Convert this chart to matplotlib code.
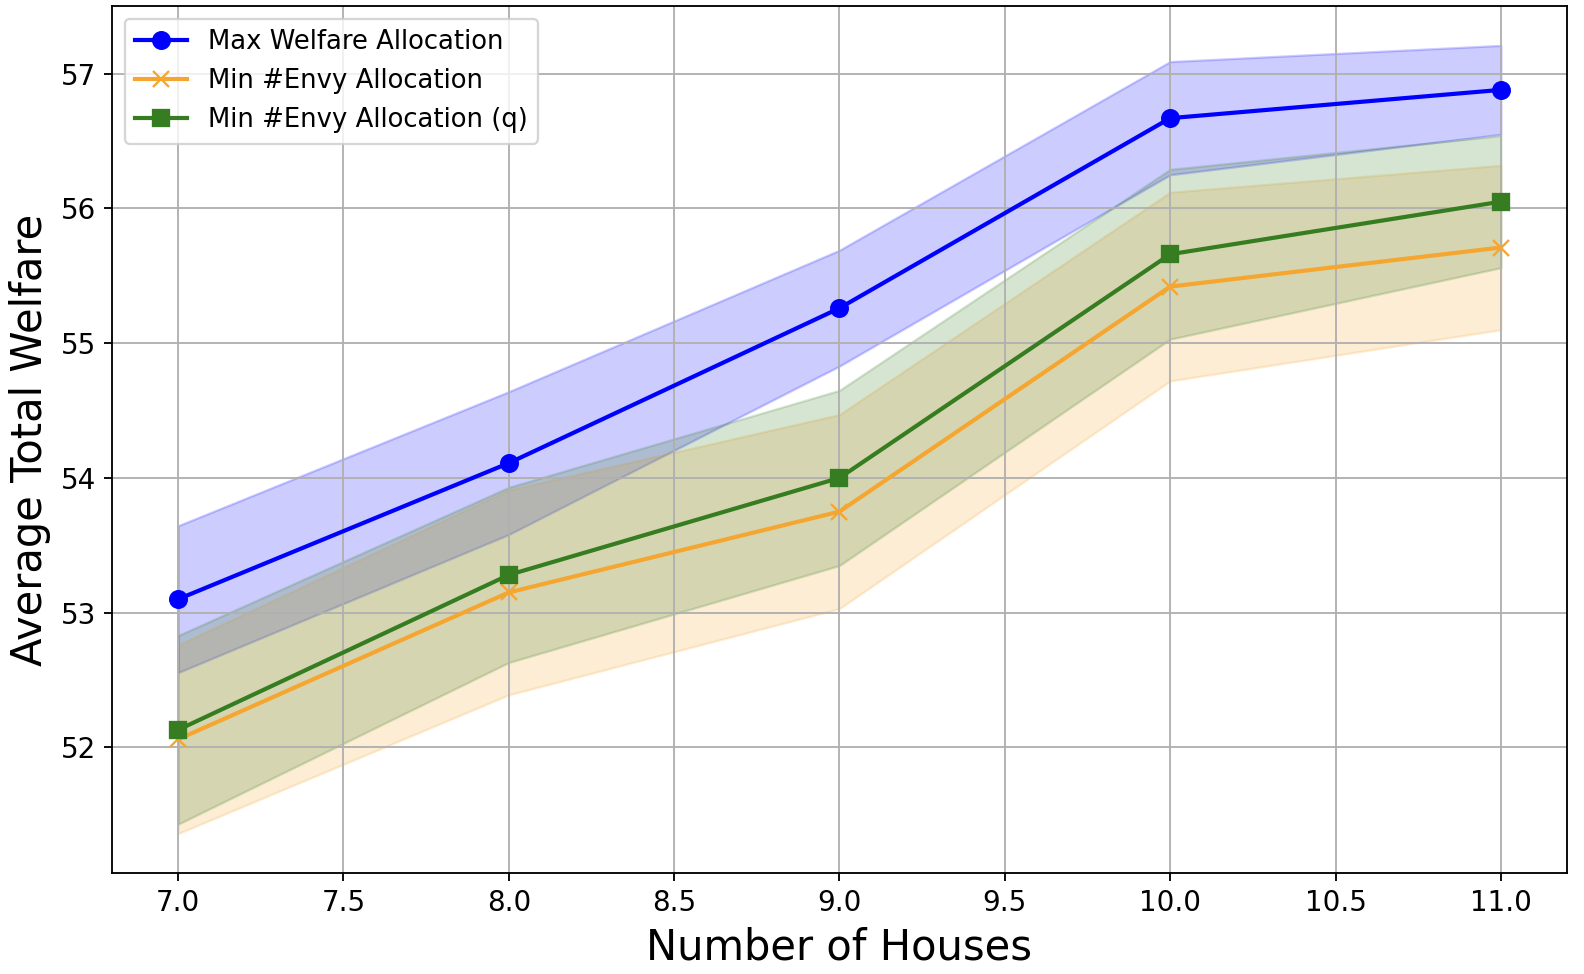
import matplotlib
matplotlib.use("Agg")
import matplotlib.pyplot as plt
import numpy as np

houses = [7, 8, 9, 10, 11]

max_welfare_mean = [53.10, 54.11, 55.26, 56.67, 56.88]
max_welfare_std = [0.545, 0.53, 0.43, 0.42, 0.33]

min_envy_mean = [52.06, 53.15, 53.75, 55.42, 55.71]
min_envy_std = [0.70, 0.76, 0.72, 0.70, 0.61]

min_envy_q_mean = [52.13, 53.28, 54.00, 55.66, 56.05]
min_envy_q_std = [0.70, 0.65, 0.65, 0.63, 0.49]

labels = ["Max Welfare Allocation", "Min #Envy Allocation", "Min #Envy Allocation (q)"]
colors = ["blue", "#f5a631", "#367d22"]
markers = ["o", "x", "s"]

DPI = 166.74
fig = plt.figure(figsize=(1584 / DPI, 974 / DPI), dpi=DPI)
ax = fig.add_axes([112 / 1584, 1 - 873 / 974, (1567 - 112) / 1584, (873 - 6) / 974])

series = [(max_welfare_mean, max_welfare_std),
          (min_envy_mean, min_envy_std),
          (min_envy_q_mean, min_envy_q_std)]

x = np.array(houses, dtype=float)
for (m, s), lab, c, mk in zip(series, labels, colors, markers):
    m = np.array(m)
    s = np.array(s)
    ax.plot(x, m, marker=mk, color=c, label=lab, linewidth=1.8, markersize=7.2)
    ax.fill_between(x, m - s, m + s, color=c, alpha=0.2)

ax.set_xlabel("Number of Houses", fontsize=18)
ax.set_ylabel("Average Total Welfare", fontsize=18)
ax.tick_params(labelsize=12)
ax.grid(True)
ax.legend(loc="upper left", fontsize=11.2)

fig.savefig("out.png", dpi=DPI)
